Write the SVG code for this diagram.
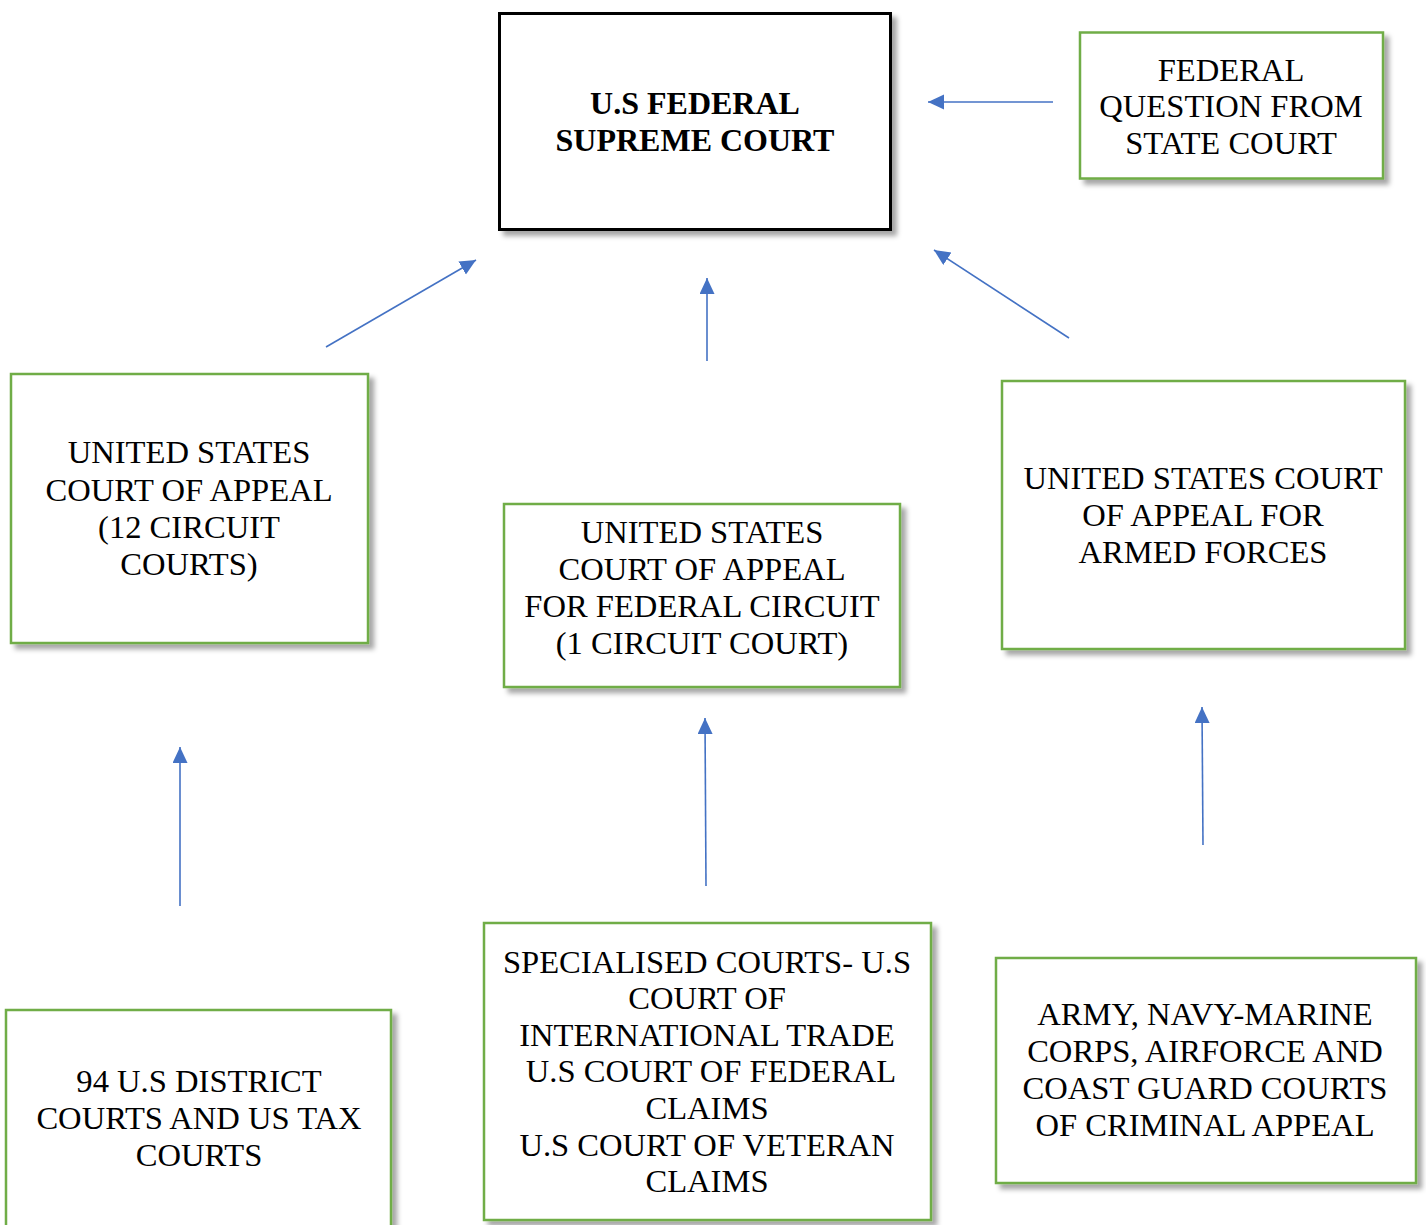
<svg xmlns="http://www.w3.org/2000/svg" width="1426" height="1225" viewBox="0 0 1426 1225">
<defs>
<filter id="sh" x="-10%" y="-10%" width="125%" height="125%">
<feDropShadow dx="5" dy="5" stdDeviation="2.5" flood-color="#000" flood-opacity="0.35"/>
</filter>
<marker id="ah" markerUnits="userSpaceOnUse" markerWidth="17" markerHeight="16" refX="16" refY="7.5" orient="auto">
<path d="M0,0 L16,7.5 L0,15 z" fill="#4472C4"/>
</marker>
</defs>
<style>
.box{fill:#fff;stroke:#70AD47;stroke-width:2.5;filter:url(#sh)}
.main{fill:#fff;stroke:#000;stroke-width:3;filter:url(#sh)}
text{font-family:"Liberation Serif","Times New Roman",serif;font-size:32.6px;fill:#000;text-anchor:middle}
.b{font-weight:bold;font-size:32px}
.c line{stroke:#4472C4;stroke-width:1.6;marker-end:url(#ah)}
</style>
<rect width="1426" height="1225" fill="#fff"/>
<g id="supreme">
<rect class="main" x="499.5" y="13.5" width="391" height="216"/>
<text class="b" x="695" y="114">U.S FEDERAL</text>
<text class="b" x="695" y="151">SUPREME COURT</text>
</g>
<g id="federal-question">
<rect class="box" x="1080" y="32.5" width="303" height="146"/>
<text x="1231" y="81">FEDERAL</text>
<text x="1231" y="117">QUESTION FROM</text>
<text x="1231" y="154">STATE COURT</text>
</g>
<g id="appeal-12">
<rect class="box" x="11" y="374" width="357" height="269"/>
<text x="189" y="463">UNITED STATES</text>
<text x="189" y="501">COURT OF APPEAL</text>
<text x="189" y="538">(12 CIRCUIT</text>
<text x="189" y="575">COURTS)</text>
</g>
<g id="appeal-federal">
<rect class="box" x="504" y="504" width="396" height="183"/>
<text x="702" y="543">UNITED STATES</text>
<text x="702" y="580">COURT OF APPEAL</text>
<text x="702" y="617">FOR FEDERAL CIRCUIT</text>
<text x="702" y="654">(1 CIRCUIT COURT)</text>
</g>
<g id="appeal-armed">
<rect class="box" x="1002" y="381" width="403" height="268"/>
<text x="1203" y="489">UNITED STATES COURT</text>
<text x="1203" y="526">OF APPEAL FOR</text>
<text x="1203" y="563">ARMED FORCES</text>
</g>
<g id="district">
<rect class="box" x="6" y="1010" width="385" height="230"/>
<text x="199" y="1092">94 U.S DISTRICT</text>
<text x="199" y="1129">COURTS AND US TAX</text>
<text x="199" y="1166">COURTS</text>
</g>
<g id="specialised">
<rect class="box" x="484" y="923" width="447" height="297"/>
<text x="707" y="973">SPECIALISED COURTS- U.S</text>
<text x="707" y="1009">COURT OF</text>
<text x="707" y="1046">INTERNATIONAL TRADE</text>
<text x="711" y="1082">U.S COURT OF FEDERAL</text>
<text x="707" y="1119">CLAIMS</text>
<text x="707" y="1156">U.S COURT OF VETERAN</text>
<text x="707" y="1192">CLAIMS</text>
</g>
<g id="military">
<rect class="box" x="996" y="958" width="420" height="225"/>
<text x="1205" y="1025">ARMY, NAVY-MARINE</text>
<text x="1205" y="1062">CORPS, AIRFORCE AND</text>
<text x="1205" y="1099">COAST GUARD COURTS</text>
<text x="1205" y="1136">OF CRIMINAL APPEAL</text>
</g>
<g id="connectors" class="c">
<line x1="1053" y1="102" x2="928" y2="102"/>
<line x1="326" y1="347" x2="476" y2="260"/>
<line x1="707" y1="361" x2="707" y2="278"/>
<line x1="1069" y1="338" x2="934" y2="250"/>
<line x1="180" y1="906" x2="180" y2="747"/>
<line x1="706" y1="886" x2="705" y2="718"/>
<line x1="1203" y1="845" x2="1202" y2="707"/>
</g>
</svg>
